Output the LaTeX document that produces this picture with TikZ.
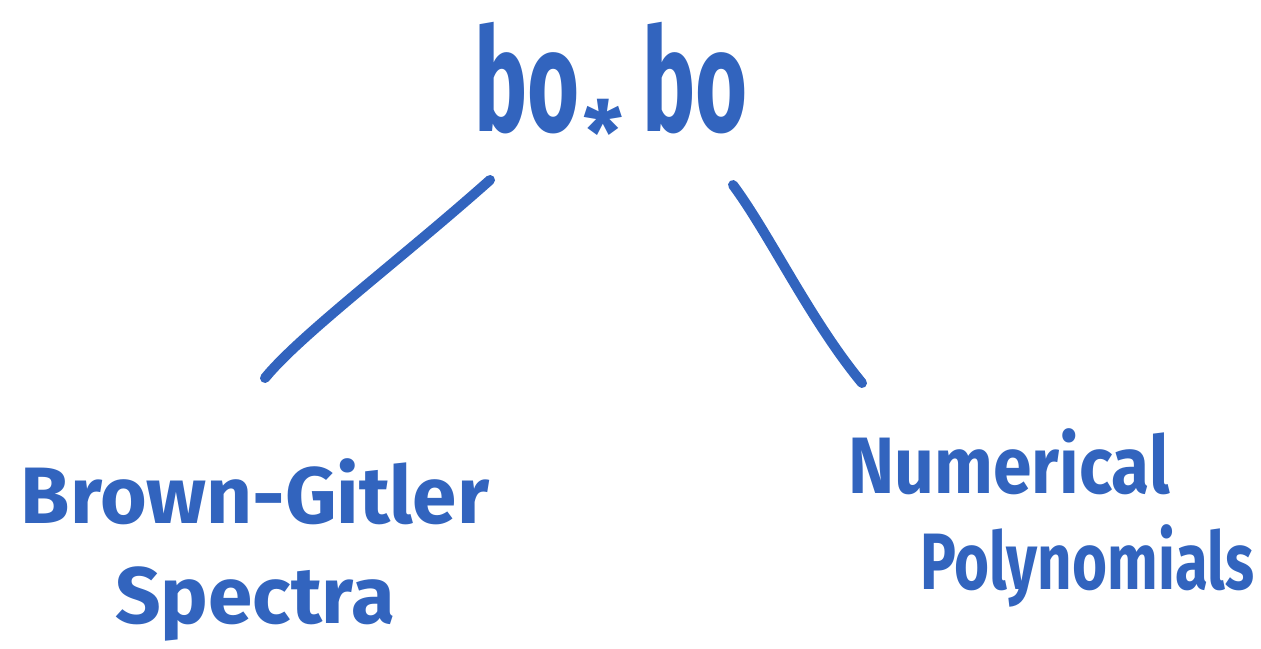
\documentclass[tikz,border=0pt]{standalone}
\usepackage{fontspec}
\setmainfont{Fira Sans}
\definecolor{ink}{RGB}{50,100,190}
\begin{document}
\begin{tikzpicture}[x=0.5pt,y=-0.5pt,
  hand/.style={text=ink, font=\fontsize{40}{50}\selectfont\bfseries, align=center, inner sep=0pt},
  big/.style={hand, font=\fontsize{72}{80}\selectfont\bfseries},
  stroke/.style={draw=ink, line width=5pt, line cap=round, line join=round}]
\useasboundingbox (0,0) rectangle (1261,648);
\node[big, xscale=0.62, anchor=east] (top1) at (580,78) {bo};
\node[hand, font=\fontsize{44}{50}\selectfont\bfseries] (star) at (603,132) {*};
\node[big, xscale=0.62, anchor=west] (top2) at (642,78) {bo};
\node[hand] (left) at (255,550) {Brown-Gitler\\Spectra};
\node[hand, xscale=0.87, anchor=west] (right1) at (848,462) {Numerical};
\node[hand, xscale=0.75, anchor=west] (right2) at (920,566) {Polynomials};
\coordinate (l1) at (490,180);
\coordinate (l2) at (265,378);
\coordinate (r1) at (733,185);
\coordinate (r2) at (862,383);
\draw[stroke] (l1) .. controls (400,260) and (300,335) .. (l2);
\draw[stroke] (r1) .. controls (770,235) and (810,320) .. (r2);
\end{tikzpicture}
\end{document}
